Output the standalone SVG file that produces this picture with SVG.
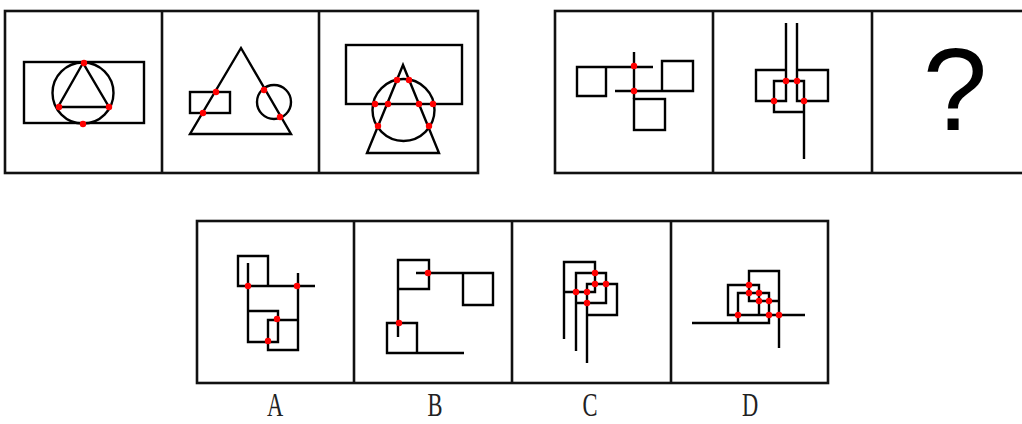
<svg xmlns="http://www.w3.org/2000/svg" width="1022" height="424" viewBox="0 0 1022 424">
<style>
.s{fill:none;stroke:#000;stroke-width:2.4}
.b{fill:none;stroke:#111;stroke-width:2.6}
.d{fill:#f00}
.lbl{font-family:"Liberation Serif",serif;font-size:30px;fill:#222}
</style>
<rect width="1022" height="424" fill="#fff"/>
<g id="row1-left">
<rect class="b" x="5" y="11" width="473" height="162"/>
<line class="b" x1="162" y1="11" x2="162" y2="173"/>
<line class="b" x1="319" y1="11" x2="319" y2="173"/>
</g>
<g id="p1">
<rect class="s" x="24" y="62" width="120" height="61"/>
<circle class="s" cx="83" cy="93" r="30.5"/>
<polygon class="s" points="83,63 58,107 109,107"/>
<circle class="d" cx="84" cy="63" r="3.2"/><circle class="d" cx="59" cy="107" r="3.2"/><circle class="d" cx="109" cy="107" r="3.2"/><circle class="d" cx="83" cy="124" r="3.2"/>
</g>
<g id="p2">
<polygon class="s" points="241,48 190,134 291,134"/>
<rect class="s" x="190" y="92" width="40" height="21"/>
<circle class="s" cx="274" cy="102" r="17"/>
<circle class="d" cx="216" cy="92" r="3.2"/><circle class="d" cx="203" cy="113" r="3.2"/><circle class="d" cx="264" cy="90" r="3.2"/><circle class="d" cx="280" cy="117" r="3.2"/>
</g>
<g id="p3">
<rect class="s" x="346" y="45" width="116" height="59"/>
<circle class="s" cx="403.5" cy="110" r="31"/>
<polygon class="s" points="403,65 367,153 439,153"/>
<circle class="d" cx="397" cy="80" r="3.2"/><circle class="d" cx="409" cy="80" r="3.2"/><circle class="d" cx="375" cy="104" r="3.2"/><circle class="d" cx="388" cy="104" r="3.2"/><circle class="d" cx="419" cy="104" r="3.2"/><circle class="d" cx="433" cy="104" r="3.2"/><circle class="d" cx="378" cy="126" r="3.2"/><circle class="d" cx="429" cy="126" r="3.2"/>
</g>
<g id="row1-right">
<rect class="b" x="555" y="11" width="480" height="162"/>
<line class="b" x1="713" y1="11" x2="713" y2="173"/>
<line class="b" x1="872" y1="11" x2="872" y2="173"/>
</g>
<g id="p4">
<polyline class="s" points="653,67 577,67 577,96 606,96 606,67"/>
<line class="s" x1="634" y1="52" x2="634" y2="99"/>
<polyline class="s" points="615,91 693,91 693,61 662,61 662,91"/>
<rect class="s" x="634" y="99" width="31" height="31"/>
<circle class="d" cx="634" cy="66" r="3.2"/><circle class="d" cx="634" cy="91" r="3.2"/>
</g>
<g id="p5">
<polyline class="s" points="786,23 786,101 756,101 756,70 786,70"/>
<polyline class="s" points="797,23 797,101 828,101 828,70 797,70"/>
<polyline class="s" points="804,159 804,81 774,81 774,112 804,112"/>
<circle class="d" cx="786" cy="81" r="3.2"/><circle class="d" cx="797" cy="81" r="3.2"/><circle class="d" cx="774" cy="101" r="3.2"/><circle class="d" cx="804" cy="101" r="3.2"/>
</g>
<g id="p6">
<text x="955" y="130" text-anchor="middle" font-family="Liberation Sans, sans-serif" font-size="116">?</text>
</g>
<g id="row2">
<rect class="b" x="197" y="221" width="631" height="162"/>
<line class="b" x1="354" y1="221" x2="354" y2="383"/>
<line class="b" x1="512" y1="221" x2="512" y2="383"/>
<line class="b" x1="671" y1="221" x2="671" y2="383"/>
</g>
<g id="optA">
<polyline class="s" points="315,286 238,286 238,256 268,256 268,286"/>
<polyline class="s" points="248,263 248,342 278,342 278,311 248,311"/>
<polyline class="s" points="298,273 298,350 268,350 268,320 298,320"/>
<circle class="d" cx="248" cy="286" r="3.2"/><circle class="d" cx="297" cy="286" r="3.2"/><circle class="d" cx="277" cy="319" r="3.2"/><circle class="d" cx="268" cy="341" r="3.2"/>
</g>
<g id="optB">
<polyline class="s" points="398,337 398,260 429,260 429,289 398,289"/>
<polyline class="s" points="416,273 493,273 493,305 463,305 463,273"/>
<polyline class="s" points="464,353 387,353 387,323 417,323 417,353"/>
<circle class="d" cx="428" cy="273" r="3.2"/><circle class="d" cx="399" cy="323" r="3.2"/>
</g>
<g id="optC">
<polyline class="s" points="564,339 564,262 595,262 595,292 564,292"/>
<polyline class="s" points="576,351 576,273 606,273 606,303 576,303"/>
<polyline class="s" points="587,363 587,284 617,284 617,315 587,315"/>
<circle class="d" cx="595" cy="273" r="3.2"/><circle class="d" cx="595" cy="284" r="3.2"/><circle class="d" cx="606" cy="284" r="3.2"/><circle class="d" cx="576" cy="292" r="3.2"/><circle class="d" cx="587" cy="292" r="3.2"/><circle class="d" cx="587" cy="303" r="3.2"/>
</g>
<g id="optD">
<polyline class="s" points="779,348 779,271 749,271 749,301 779,301"/>
<polyline class="s" points="805,315 728,315 728,285 759,285 759,315"/>
<polyline class="s" points="692,323 769,323 769,293 738,293 738,323"/>
<circle class="d" cx="749" cy="285" r="3.2"/><circle class="d" cx="749" cy="293" r="3.2"/><circle class="d" cx="759" cy="293" r="3.2"/><circle class="d" cx="759" cy="301" r="3.2"/><circle class="d" cx="769" cy="301" r="3.2"/><circle class="d" cx="779" cy="315" r="3.2"/><circle class="d" cx="738" cy="315" r="3.2"/><circle class="d" cx="769" cy="315" r="3.2"/>
</g>
<g id="labels">
<text class="lbl" text-anchor="middle" transform="translate(275,416) scale(0.75,1.15)">A</text>
<text class="lbl" text-anchor="middle" transform="translate(435,416) scale(0.75,1.15)">B</text>
<text class="lbl" text-anchor="middle" transform="translate(590,416) scale(0.75,1.15)">C</text>
<text class="lbl" text-anchor="middle" transform="translate(750,416) scale(0.75,1.15)">D</text>
</g>
</svg>
